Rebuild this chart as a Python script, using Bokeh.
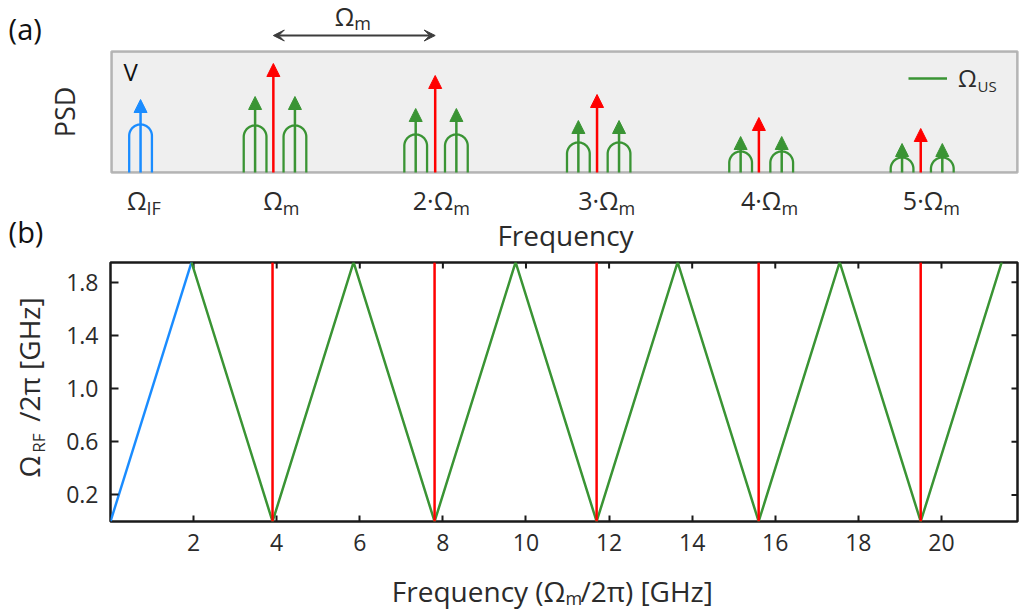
import numpy as np
from bokeh.plotting import figure
from bokeh.models import (Range1d, FixedTicker, Arrow, NormalHead, VeeHead, BoxAnnotation,
                          LabelSet, ColumnDataSource, Legend, LegendItem)
from bokeh.layouts import column, row
from bokeh.core.properties import value
from bokeh.embed import file_html
from bokeh.resources import INLINE

# ---------------- data ----------------
# (a) schematic power spectral density (arbitrary units)
if_x = [0.70]                                   # IF tone position
if_psd = [0.73]
if_lobe = [0.48]
harmonic_x = [3.9, 7.8, 11.7, 15.6, 19.5]       # n * Omega_m
carrier_psd = [1.09, 0.97, 0.78, 0.55, 0.44]
sb_lo_x = [3.46, 7.33, 11.25, 15.16, 19.05]     # lower sidebands
sb_hi_x = [4.42, 8.31, 12.23, 16.15, 20.02]     # upper sidebands
sb_psd = [0.76, 0.64, 0.52, 0.36, 0.29]
sb_lobe = [0.47, 0.38, 0.30, 0.21, 0.15]
psd_top = 1.21
label_main = ["Ω", "Ω", "2·Ω", "3·Ω", "4·Ω", "5·Ω"]
label_sub = ["IF", "m", "m", "m", "m", "m"]

# (b) down-converted RF frequency vs. modulation frequency (GHz)
if_line_x = [0.0, 1.95]
if_line_y = [0.0, 1.95]
us_x = [1.95, 3.9, 5.85, 7.8, 9.75, 11.7, 13.65, 15.6, 17.55, 19.5, 21.45]
us_y = [1.95, 0.0, 1.95, 0.0, 1.95, 0.0, 1.95, 0.0, 1.95, 0.0, 1.95]
lo_x = [3.9, 7.8, 11.7, 15.6, 19.5]
rf_max = 1.95
x_ticks = [2, 4, 6, 8, 10, 12, 14, 16, 18, 20]
y_ticks = [0.2, 0.6, 1.0, 1.4, 1.8]
y_tick_labels = ["0.2", "0.6", "1.0", "1.4", "1.8"]

# ---------------- style ----------------
FONT = "Open Sans"
TXT = "#2b2b2b"
RED = "#ff0000"
GREEN = "#3a9434"
BLUE = "#1a8cff"
FRAME = "#1a1a1a"
X_MAX = 21.83
Y_MAX = 1.948


def lobe_paths(xs, tops, rx=0.274, ry=0.1135, n=40):
    """Inverted-U outline around a spectral line: straight sides, round cap."""
    t = np.linspace(np.pi, 0, n)
    px, py = [], []
    for c, h in zip(xs, tops):
        base = h - ry
        px.append([c - rx] + list(c + rx * np.cos(t)) + [c + rx])
        py.append([0.0] + list(base + ry * np.sin(t)) + [0.0])
    return px, py


def add_arrows(p, xs, ys, color):
    src = ColumnDataSource(dict(x=xs, y=ys))
    p.add_layout(Arrow(end=NormalHead(size=13, fill_color=color, line_color=color, line_width=1),
                       x_start="x", y_start=0, x_end="x", y_end="y", source=src,
                       line_color=color, line_width=2.5))


def text_label(p, x, y, text, size, align="left", baseline="alphabetic",
               color=TXT, angle=0.0):
    src = ColumnDataSource(dict(x=[x], y=[y], t=[text]))
    p.add_layout(LabelSet(x="x", y="y", text="t", source=src, angle=angle,
                          text_align=align, text_baseline=baseline,
                          text_font=value(FONT), text_font_size=f"{size}px",
                          text_color=color))


def bare_figure(w, h, xr, yr):
    f = figure(width=w, height=h, x_range=xr, y_range=yr, x_axis_type=None, y_axis_type=None,
               output_backend="svg", toolbar_location=None,
               min_border_left=0, min_border_right=0, min_border_top=0, min_border_bottom=0)
    f.outline_line_color = None
    f.grid.visible = False
    f.background_fill_color = "white"
    return f


# ================= panel (a) =================
p1 = bare_figure(1019, 256, Range1d(-2.675, 21.88), Range1d(-0.84, 1.72))
p1.add_layout(BoxAnnotation(left=0, right=X_MAX, bottom=0, top=psd_top,
                            fill_color="#efefef", fill_alpha=1.0,
                            line_color=FRAME, line_width=2.5, level="underlay"))

lx, ly = lobe_paths(if_x, if_lobe)
p1.multi_line(lx, ly, line_color=BLUE, line_width=2.3)
lx, ly = lobe_paths(sb_lo_x + sb_hi_x, sb_lobe + sb_lobe)
green_lobes = p1.multi_line(lx, ly, line_color=GREEN, line_width=2.3)

add_arrows(p1, if_x, if_psd, BLUE)
add_arrows(p1, sb_lo_x + sb_hi_x, sb_psd + sb_psd, GREEN)
add_arrows(p1, harmonic_x, carrier_psd, RED)

# spacing marker between the first two harmonics
DARK = "#3c3c3c"
p1.add_layout(Arrow(start=VeeHead(size=11, fill_color=DARK, line_color=DARK),
                    end=VeeHead(size=11, fill_color=DARK, line_color=DARK),
                    x_start=harmonic_x[0], y_start=1.37, x_end=harmonic_x[1], y_end=1.37,
                    line_color=DARK, line_width=2))
mid = 0.5 * (harmonic_x[0] + harmonic_x[1])
text_label(p1, mid, 1.47, "Ω", 25, align="right")
text_label(p1, mid, 1.43, "m", 18)

# harmonic labels under the box
lab_src = ColumnDataSource(dict(x=if_x + harmonic_x, main=label_main, sub=label_sub,
                                off=[6, 9.5, 18, 21.5, 22.5, 22.5]))
p1.add_layout(LabelSet(x="x", y=-0.375, text="main", x_offset="off", source=lab_src,
                       text_align="right", text_baseline="alphabetic",
                       text_font=value(FONT), text_font_size="25px", text_color=TXT))
p1.add_layout(LabelSet(x="x", y=-0.423, text="sub", x_offset="off", source=lab_src,
                       text_align="left", text_baseline="alphabetic",
                       text_font=value(FONT), text_font_size="18px", text_color=TXT))

text_label(p1, 10.94, -0.73, "Frequency", 28, align="center")
text_label(p1, -1.13, 0.605, "PSD", 27, align="center", baseline="middle", angle=np.pi / 2)
text_label(p1, 0.29, 0.92, "V", 24, color="#111111")
text_label(p1, -2.48, 1.325, "(a)", 29, color="#111111")
text_label(p1, -2.48, -0.707, "(b)", 29, color="#111111")

legend = Legend(items=[LegendItem(label=value("Ω"), renderers=[green_lobes])],
                location=(908, 162), padding=0, margin=0, spacing=0,
                glyph_width=39, glyph_height=20, label_standoff=11,
                label_text_font=FONT, label_text_font_size="24px", label_text_color=TXT,
                border_line_color=None, background_fill_alpha=0)
p1.add_layout(legend)
text_label(p1, 20.87, 0.803, "US", 15)

# ================= panel (b) =================
p2 = figure(width=969, height=314, x_range=Range1d(0, X_MAX), y_range=Range1d(0, Y_MAX),
            output_backend="svg", toolbar_location=None,
            min_border_left=60, min_border_right=2, min_border_top=6, min_border_bottom=49)
p2.outline_line_color = FRAME
p2.outline_line_width = 2.5
p2.grid.visible = False


def style_axis(ax, ticks, tick_len):
    ax.ticker = FixedTicker(ticks=ticks)
    ax.axis_line_color = None
    ax.major_tick_in = tick_len
    ax.major_tick_out = 0
    ax.major_tick_line_color = FRAME
    ax.major_tick_line_width = 2
    ax.minor_tick_line_color = None
    ax.major_label_text_font = FONT
    ax.major_label_text_font_size = "23px"
    ax.major_label_text_color = TXT
    ax.major_label_standoff = 12


style_axis(p2.xaxis[0], x_ticks, 6)
style_axis(p2.yaxis[0], y_ticks, 8)
p2.yaxis[0].major_label_overrides = {t: s for t, s in zip(y_ticks, y_tick_labels)}

# mirrored inward ticks on the top and right edges
p2.ray(x=x_ticks, y=Y_MAX, length=6, length_units="screen", angle=-np.pi / 2,
       line_color=FRAME, line_width=2)
p2.ray(x=X_MAX, y=y_ticks, length=6, length_units="screen", angle=np.pi,
       line_color=FRAME, line_width=2)

p2.line(if_line_x, if_line_y, line_color=BLUE, line_width=2.5)
p2.line(us_x, us_y, line_color=GREEN, line_width=2.5)
p2.segment(x0=lo_x, y0=0, x1=lo_x, y1=rf_max, line_color=RED, line_width=2.5)

# y-axis title with subscript (rotated); its frame lines up with panel (b),
# so it shares the same vertical range
ytitle = bare_figure(50, 314, Range1d(0, 50), p2.y_range)
text_label(ytitle, 29, 0.414, "Ω", 28, align="center", baseline="middle", angle=np.pi / 2)
text_label(ytitle, 38.5, 0.590, "RF", 17, align="center", baseline="middle", angle=np.pi / 2)
text_label(ytitle, 29, 1.218, "/2π [GHz]", 28, align="center", baseline="middle",
           angle=np.pi / 2)

# x-axis title with subscript, same horizontal scale as panel (b)
xtitle = bare_figure(1019, 40, Range1d(-2.647, 21.877), Range1d(0, 40))
text_label(xtitle, 10.95, 9, "Frequency (Ω", 28, align="right")
text_label(xtitle, 10.95, 6, "m", 18)
text_label(xtitle, 11.31, 9, "/2π) [GHz]", 28)

layout = column(p1, row(ytitle, p2, spacing=0), xtitle, spacing=0)
open("out.html", "w").write(file_html(layout, INLINE))
